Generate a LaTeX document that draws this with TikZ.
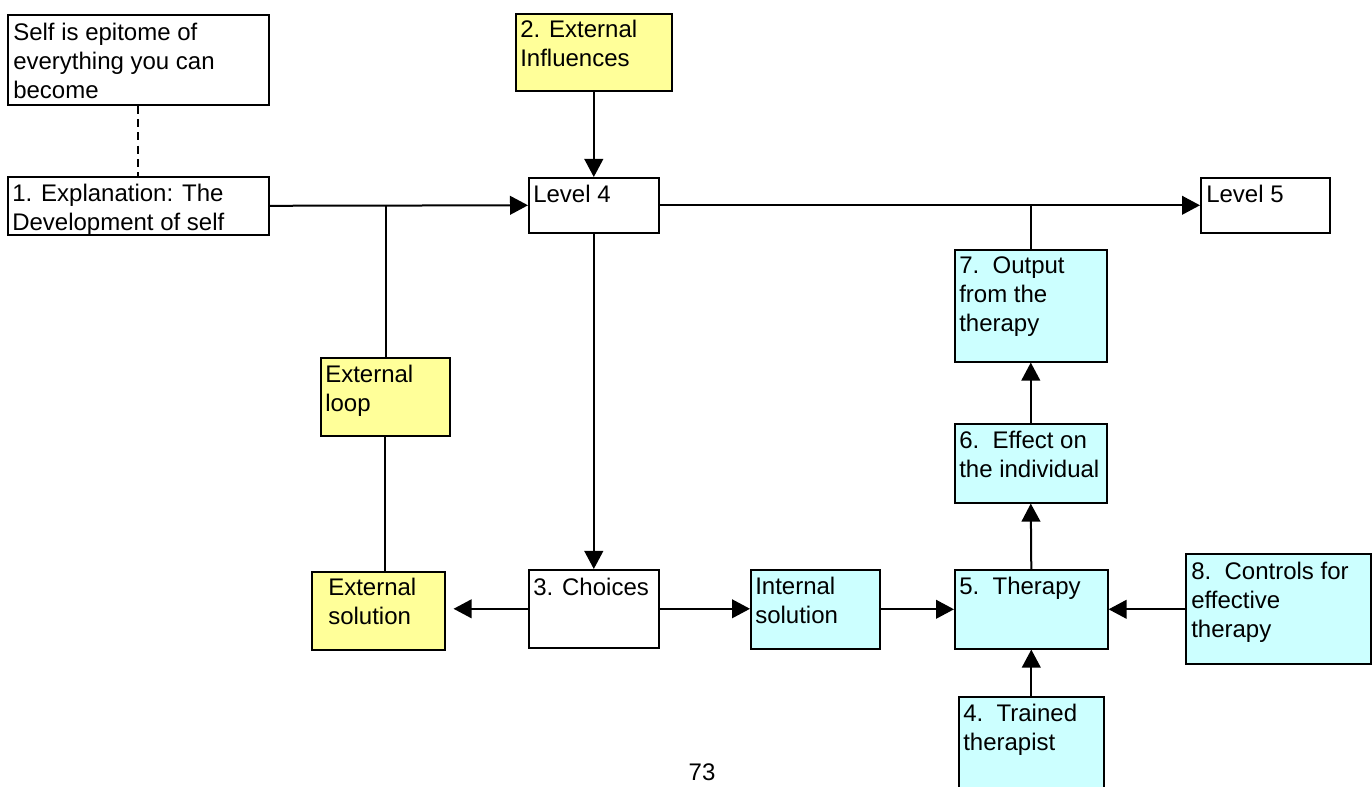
\documentclass[tikz,border=0pt]{standalone}
\usepackage{fontspec}
\setmainfont{Liberation Sans}
\usetikzlibrary{arrows.meta,calc}
\definecolor{boxyellow}{HTML}{FFFF99}
\definecolor{boxcyan}{HTML}{CCFFFF}
\begin{document}
\begin{tikzpicture}[x=0.75pt,y=-0.75pt,
  box/.style={draw=black, line width=1.2pt, inner sep=0pt, anchor=north west},
  ybox/.style={box, fill=boxyellow},
  cbox/.style={box, fill=boxcyan},
  txt/.style={anchor=north west, inner sep=0pt, align=left, font=\fontsize{18}{21.75}\selectfont},
  conn/.style={line width=1.5pt},
  arr/.style={conn, -{Triangle[length=13.5pt,width=14pt]}}
]
\clip (0,0) rectangle (1372,787);
\fill[white] (0,0) rectangle (1372,787);
% boxes
\node[box,  minimum width=261*0.75pt, minimum height=90*0.75pt] (self) at (7,14) {};
\node[box,  minimum width=261*0.75pt, minimum height=58*0.75pt] (expl) at (7,176) {};
\node[ybox, minimum width=156*0.75pt, minimum height=77*0.75pt] (ext) at (515,13) {};
\node[box,  minimum width=130*0.75pt, minimum height=55*0.75pt] (lfour) at (528,177) {};
\node[box,  minimum width=129*0.75pt, minimum height=55*0.75pt] (lfive) at (1200,177) {};
\node[cbox, minimum width=152*0.75pt, minimum height=112*0.75pt] (out) at (954,249) {};
\node[cbox, minimum width=152*0.75pt, minimum height=79*0.75pt] (eff) at (954,423) {};
\node[ybox, minimum width=129*0.75pt, minimum height=78*0.75pt] (loop) at (320,357) {};
\node[ybox, minimum width=133*0.75pt, minimum height=78*0.75pt] (extsol) at (311,571) {};
\node[box,  minimum width=130*0.75pt, minimum height=78*0.75pt] (choices) at (528,569) {};
\node[cbox, minimum width=129*0.75pt, minimum height=79*0.75pt] (intsol) at (750,569) {};
\node[cbox, minimum width=153*0.75pt, minimum height=79*0.75pt] (ther) at (954,569) {};
\node[cbox, minimum width=185*0.75pt, minimum height=110*0.75pt] (ctrl) at (1185,553) {};
\node[cbox, minimum width=145*0.75pt, minimum height=120*0.75pt] (trained) at (958,696) {};
% texts
\node[txt] (tself) at ($(self.north west)+(6,6)$) {\strut Self is epitome of\\everything you can\\become};
\node[txt] (texpl) at ($(expl.north west)+(5,5)$) {\strut 1. Explanation: The\\Development of self};
\node[txt] (text) at ($(ext.north west)+(5,4)$) {\strut 2. External\\Influences};
\node[txt] (tlfour) at ($(lfour.north west)+(5,5)$) {\strut Level 4};
\node[txt] (tlfive) at ($(lfive.north west)+(6,5)$) {\strut Level 5};
\node[txt] (tout) at ($(out.north west)+(5,4)$) {\strut 7.\ \ Output\\from the\\therapy};
\node[txt] (teff) at ($(eff.north west)+(5,5)$) {\strut 6.\ \ Effect on\\the individual};
\node[txt] (tloop) at ($(loop.north west)+(5,5)$) {\strut External\\loop};
\node[txt] (textsol) at ($(extsol.north west)+(17,4)$) {\strut External\\solution};
\node[txt] (tchoices) at ($(choices.north west)+(5,6)$) {\strut 3. Choices};
\node[txt] (tintsol) at ($(intsol.north west)+(5,5)$) {\strut Internal\\solution};
\node[txt] (tther) at ($(ther.north west)+(5,5)$) {\strut 5.\ \ Therapy};
\node[txt] (tctrl) at ($(ctrl.north west)+(6,6)$) {\strut 8.\ \ Controls for\\effective\\therapy};
\node[txt] (ttrained) at ($(trained.north west)+(5,5)$) {\strut 4.\ \ Trained\\therapist};
\node[anchor=base, inner sep=0pt, font=\fontsize{18}{21.75}\selectfont] (page) at (702,780) {73};
% connectors
\draw[conn, dashed, dash pattern=on 6pt off 4pt] (self) -- (expl);
\draw[arr] (expl.east) -- (lfour.west);
\coordinate (jone) at (386,205);
\draw[conn] (jone) -- (jone |- loop.north);
\draw[conn] (loop.south) -- (loop.south |- extsol.north);
\draw[arr] (ext.south) -- (lfour.north);
\draw[arr] (lfour.south) -- (choices.north);
\draw[arr] (lfour.east) -- (lfive.west);
\draw[conn] (out.north) -- (out.north |- lfour.east);
\draw[arr, shorten >=6pt] (choices.west) -- (extsol.east |- choices.west);
\draw[arr] (choices.east) -- (intsol.west |- choices.east);
\draw[arr] (intsol.east) -- (ther.west);
\draw[arr] (ther.east -| ctrl.west) -- (ther.east);
\draw[arr] (trained.north) -- (ther.south);
\draw[arr] (ther.north) -- (eff.south);
\draw[arr] (eff.north) -- (out.south);
\end{tikzpicture}
\end{document}
